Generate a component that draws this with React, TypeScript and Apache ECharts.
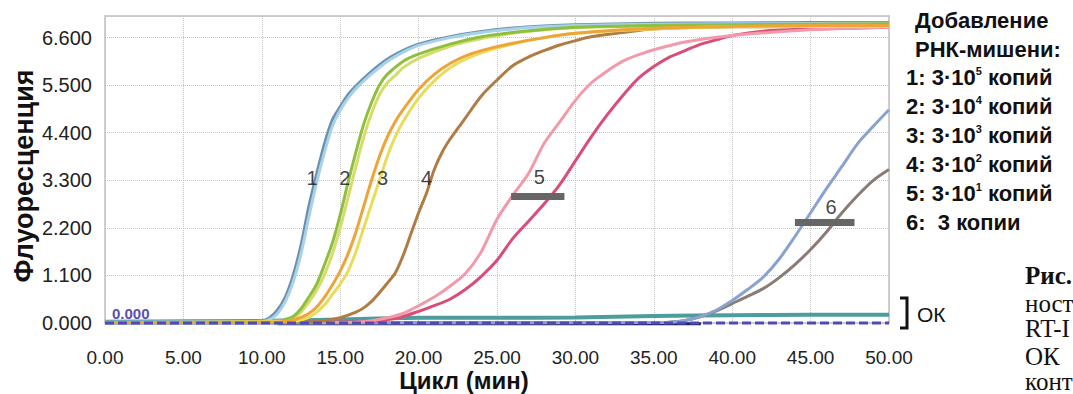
import React, { useEffect, useRef } from "react";
import * as echarts from "echarts";

// ---- data (cycle, fluorescence) ----
const curve1a = [[0,0.02],[9,0.02],[10,0.04],[10.5,0.12],[11,0.3],[11.5,0.6],[12,1.1],[12.5,1.8],[13,2.7],[13.5,3.45],[14,4.15],[14.5,4.7],[15,5.0],[15.5,5.28],[16,5.48],[17,5.82],[18,6.1],[19,6.3],[20,6.45],[22,6.62],[24,6.74],[26,6.82],[28,6.87],[30,6.9],[35,6.93],[40,6.94],[45,6.95],[50,6.95]];
const curve1b = [[0,0.02],[10,0.03],[10.5,0.08],[11,0.22],[11.5,0.5],[12,0.95],[12.5,1.6],[13,2.45],[13.5,3.25],[14,3.95],[14.5,4.55],[15,4.92],[15.5,5.2],[16,5.42],[17,5.76],[18,6.05],[19,6.26],[20,6.42],[22,6.6],[24,6.72],[26,6.8],[28,6.85],[30,6.88],[35,6.91],[40,6.92],[50,6.93]];
const curve2a = [[0,0.01],[11,0.03],[11.5,0.08],[12,0.15],[12.5,0.33],[13,0.6],[13.5,0.9],[14,1.35],[14.5,1.85],[15,2.5],[15.5,3.25],[16,3.95],[16.5,4.6],[17,5.1],[17.5,5.5],[18,5.75],[19,6.05],[20,6.22],[22,6.45],[24,6.62],[26,6.72],[28,6.79],[30,6.84],[35,6.88],[40,6.9],[50,6.92]];
const curve2b = [[0,0.01],[11.5,0.05],[12,0.11],[12.5,0.25],[13,0.48],[13.5,0.76],[14,1.12],[14.5,1.6],[15,2.2],[15.5,2.9],[16,3.62],[16.5,4.3],[17,4.85],[17.5,5.28],[18,5.55],[18.5,5.72],[19,5.9],[20,6.12],[22,6.4],[24,6.58],[26,6.7],[28,6.78],[30,6.83],[35,6.87],[40,6.89],[50,6.9]];
const curve3a = [[0,0.01],[11,0.02],[12,0.07],[12.5,0.13],[13,0.22],[13.5,0.37],[14,0.6],[14.5,0.88],[15,1.2],[15.5,1.6],[16,2.1],[16.5,2.7],[17,3.3],[17.5,3.85],[18,4.3],[18.5,4.65],[19,4.93],[20,5.4],[21,5.75],[22,6.0],[23,6.18],[24,6.3],[26,6.47],[28,6.6],[30,6.7],[33,6.78],[36,6.83],[40,6.86],[45,6.88],[50,6.88]];
const curve3b = [[0,0.01],[12,0.04],[13,0.13],[13.5,0.25],[14,0.42],[14.5,0.66],[15,0.9],[15.5,1.2],[16,1.65],[16.5,2.2],[17,2.75],[17.5,3.3],[18,3.85],[18.5,4.3],[19,4.65],[20,5.2],[21,5.6],[22,5.9],[23,6.1],[24,6.25],[26,6.45],[28,6.6],[30,6.7],[35,6.8],[40,6.85],[50,6.86]];
const curve4 = [[0,0.01],[13,0.02],[14,0.05],[15,0.12],[16,0.25],[16.5,0.35],[17,0.5],[17.5,0.7],[18,0.92],[18.5,1.15],[19,1.55],[19.5,2.05],[20,2.55],[20.5,3.0],[21,3.55],[21.5,3.95],[22,4.25],[22.5,4.5],[23,4.75],[24,5.25],[25,5.62],[26,5.95],[27,6.15],[28,6.3],[29,6.43],[30,6.53],[31,6.62],[33,6.72],[35,6.8],[40,6.85],[50,6.86]];
const curve5a = [[0,0.01],[16,0.02],[17,0.05],[18,0.12],[19,0.22],[20,0.4],[21,0.6],[22,0.85],[23,1.15],[24,1.65],[25,2.4],[26,2.95],[27,3.45],[28,4.15],[29,4.65],[30,5.15],[31,5.55],[32,5.82],[33,6.05],[34,6.2],[35,6.32],[37,6.5],[40,6.65],[45,6.78],[50,6.84]];
const curve5b = [[0,0.01],[17,0.03],[18,0.08],[19,0.15],[20,0.27],[21,0.4],[22,0.55],[23,0.78],[24,1.08],[25,1.45],[26,1.95],[27,2.35],[28,2.75],[29,3.2],[30,3.75],[31,4.3],[32,4.8],[33,5.25],[34,5.65],[35,5.93],[36,6.15],[37,6.3],[38,6.45],[39,6.55],[40,6.65],[42,6.75],[45,6.8],[50,6.84]];
const curve6a = [[0,0.0],[35,0.01],[36,0.02],[37,0.06],[38,0.15],[39,0.3],[40,0.52],[41,0.78],[42,1.07],[43,1.48],[44,2.0],[45,2.55],[46,3.1],[47,3.62],[48,4.15],[49,4.55],[50,4.93]];
const curve6b = [[0,0.0],[35,0.01],[36,0.02],[37,0.06],[38,0.15],[39,0.28],[40,0.45],[41,0.62],[42,0.8],[43,1.05],[44,1.35],[45,1.7],[46,2.1],[47,2.55],[48,2.95],[49,3.3],[50,3.55]];
const controlOK = [[0,0.03],[10,0.05],[15,0.08],[20,0.12],[25,0.12],[30,0.13],[35,0.16],[40,0.18],[45,0.19],[50,0.19]];
const baselineNavy = [[11,-0.02],[38,-0.02]];
const threshold = [[0,0],[50,0]];

const curveLabels = [
  { name: "1", value: [13.2, 3.36] },
  { name: "2", value: [15.3, 3.36] },
  { name: "3", value: [17.7, 3.36] },
  { name: "4", value: [20.5, 3.36] },
  { name: "5", value: [27.7, 3.38] },
  { name: "6", value: [46.3, 2.69] },
];
const ctBar5 = [[25.9, 2.94], [29.3, 2.94]];
const ctBar6 = [[44.0, 2.34], [47.8, 2.34]];

const legendTitle = ["Добавление", "РНК-мишени:"];
const legendRows = [
  ["1: 3·10", "5", " копий"],
  ["2: 3·10", "4", " копий"],
  ["3: 3·10", "3", " копий"],
  ["4: 3·10", "2", " копий"],
  ["5: 3·10", "1", " копий"],
  ["6:  3 копии", "", ""],
];
const captionLines = ["Рис.", "ност", "RT-I", "ОК", "конт"];

const SANS = '"Liberation Sans", Arial, sans-serif';
const SERIF = '"Liberation Serif", "Times New Roman", serif';

function line(name: string, data: number[][], color: string, width = 3, z = 2) {
  return {
    name,
    type: "line",
    data,
    smooth: 0.3,
    showSymbol: false,
    symbol: "none",
    clip: false,
    z,
    lineStyle: { color, width },
  };
}

export default function App() {
  const ref = useRef<HTMLDivElement>(null);
  useEffect(() => {
    if (!ref.current) return;
    const chart = echarts.init(ref.current, undefined, { renderer: "svg" });
    const graphic: any[] = [];
    graphic.push({
      type: "text", x: 24, y: 176, rotation: Math.PI / 2,
      style: { text: "Флуоресценция", font: `bold 27px ${SANS}`, fill: "#111", align: "center", verticalAlign: "middle" },
    });
    graphic.push({
      type: "text", x: 464, y: 380,
      style: { text: "Цикл (мин)", font: `bold 24px ${SANS}`, fill: "#111", align: "center", verticalAlign: "middle" },
    });
    graphic.push({
      type: "text", x: 112, y: 313,
      style: { text: "0.000", font: `bold 15px ${SANS}`, fill: "#5a50b0", align: "left", verticalAlign: "middle" },
    });
    legendTitle.forEach((t, i) => {
      graphic.push({
        type: "text", x: 915, y: 20 + i * 29,
        style: { text: t, font: `bold 22px ${SANS}`, fill: "#111", align: "left", verticalAlign: "middle" },
      });
    });
    legendRows.forEach((r, i) => {
      const txt = r[1] ? `{a|${r[0]}}{s|${r[1]}}{a|${r[2]}}` : `{a|${r[0]}}`;
      graphic.push({
        type: "text", x: 906, y: 77 + i * 29,
        style: {
          text: txt, align: "left", verticalAlign: "middle", fill: "#111",
          rich: {
            a: { fontSize: 22, fontWeight: "bold", fontFamily: SANS, fill: "#111", lineHeight: 24 },
            s: { fontSize: 11, fontWeight: "bold", fontFamily: SANS, fill: "#111", verticalAlign: "top", lineHeight: 12 },
          },
        },
      });
    });
    graphic.push({
      type: "polyline",
      shape: { points: [[900, 298], [907, 298], [907, 328], [900, 328]] },
      style: { stroke: "#111", lineWidth: 3, fill: null },
    });
    graphic.push({
      type: "text", x: 917, y: 314,
      style: { text: "ОК", font: `21px ${SANS}`, fill: "#111", align: "left", verticalAlign: "middle" },
    });
    const capY = [275, 303, 328, 356, 381];
    captionLines.forEach((t, i) => {
      graphic.push({
        type: "text", x: 1025, y: capY[i],
        style: { text: t, font: `${i === 0 ? "bold " : ""}25px ${SERIF}`, fill: "#111", align: "left", verticalAlign: "middle" },
      });
    });

    const option: any = {
      animation: false,
      backgroundColor: "#ffffff",
      grid: { left: 105, top: 16, width: 784, bottom: 71, show: true, borderColor: "#cfcfcf", borderWidth: 2, backgroundColor: "transparent" },
      xAxis: {
        type: "value", min: 0, max: 50, interval: 5,
        axisLine: { show: false }, axisTick: { show: false },
        splitLine: { show: true, lineStyle: { type: "dotted", color: "#c4c4c4", width: 1 } },
        axisLabel: { formatter: (v: number) => v.toFixed(2), fontSize: 19, color: "#222", fontFamily: SANS, margin: 25 },
      },
      yAxis: {
        type: "value", min: 0, max: 7.1, interval: 1.1,
        axisLine: { show: false }, axisTick: { show: false },
        splitLine: { show: true, lineStyle: { type: "dotted", color: "#c4c4c4", width: 1 } },
        axisLabel: { formatter: (v: number) => v.toFixed(3), fontSize: 20, color: "#222", fontFamily: SANS, margin: 13, showMaxLabel: false },
      },
      graphic,
      series: [
        line("navy", baselineNavy, "#23236b", 3),
        line("OK", controlOK, "#4e9c9c", 4),
        line("6b", curve6b, "#8a7c74", 3),
        { ...line("6a", curve6a, "#8aa2cf", 3),
          markLine: { silent: true, symbol: "none", label: { show: false }, lineStyle: { color: "#666", width: 7, type: "solid" },
            data: [[{ coord: ctBar6[0] }, { coord: ctBar6[1] }]] } },
        line("5b", curve5b, "#d94d78", 3),
        { ...line("5a", curve5a, "#f29aaa", 3),
          markLine: { silent: true, symbol: "none", label: { show: false }, lineStyle: { color: "#666", width: 7, type: "solid" },
            data: [[{ coord: ctBar5[0] }, { coord: ctBar5[1] }]] } },
        line("4", curve4, "#b07c44", 3),
        line("1a", curve1a, "#6e90ad", 3),
        line("1b", curve1b, "#a6d2ea", 3),
        line("2b", curve2b, "#d6dc6a", 3),
        line("2a", curve2a, "#8fbf3f", 3),
        line("3b", curve3b, "#e8dc5a", 3),
        line("3a", curve3a, "#eda53a", 3),
        { name: "threshold", type: "line", data: threshold, showSymbol: false, symbol: "none", z: 3, clip: false,
          lineStyle: { color: "#4f4bb5", width: 3, type: [9, 4] } },
        { name: "labels", type: "scatter", data: curveLabels, symbolSize: 1, z: 5,
          itemStyle: { color: "rgba(0,0,0,0)" },
          label: { show: true, position: "inside", formatter: "{b}", fontSize: 20, color: "#111", fontFamily: SANS } },
      ],
    };
    chart.setOption(option);
    return () => chart.dispose();
  }, []);
  return <div ref={ref} style={{ position: "fixed", left: 0, top: 0, width: 1073, height: 394 }} />;
}
